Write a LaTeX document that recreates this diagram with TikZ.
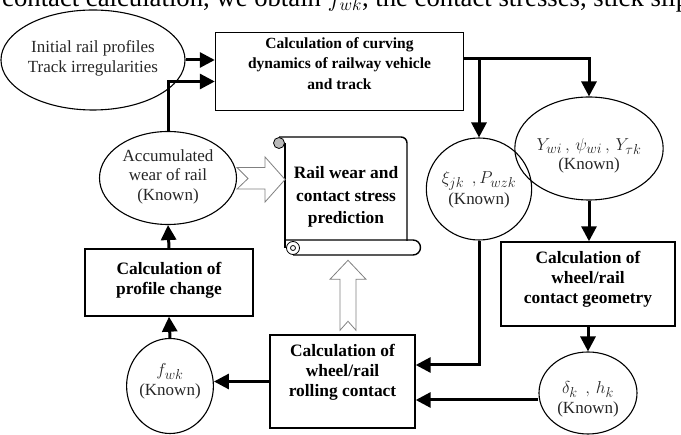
\documentclass[tikz,border=0pt]{standalone}
\usepackage{amsmath}
\usepackage{fontspec}
\setmainfont{Liberation Serif}
\usetikzlibrary{shapes.geometric,arrows.meta}

% lines of a node, lifted by #1, taking no room of their own
\newcommand{\ntext}[2]{\raisebox{#1}[0pt][0pt]{\begin{tabular}{@{}c@{}}#2\end{tabular}}}
\newcommand{\mathline}[1]{\fontsize{19}{20}\selectfont$#1$}

\tikzset{
  box/.style={draw, line width=1.4pt, rectangle, inner sep=0pt,
    font=\fontsize{17.4}{20}\selectfont\bfseries},
  oval/.style={draw, line width=1.1pt, ellipse, inner sep=0pt,
    font=\fontsize{17}{19.5}\selectfont, text=black!85},
  flow/.style={line width=3pt, -{Triangle[length=15pt,width=15pt]}},
  hollow/.style={draw=gray, fill=white, line width=0.8pt, line join=miter}
}

\begin{document}
\begin{tikzpicture}[x=1pt, y=-1pt]
\useasboundingbox (0,0) rectangle (681,435);
% text of the page above the figure
\node[anchor=base west, inner sep=0pt, font=\fontsize{26.7}{28}\selectfont] (caption) at (2,7)
  {contact calculation, we obtain $f_{wk}$, the contact stresses, stick slip};

% nodes
\node[oval, minimum width=153, minimum height=100] (init) at (93,60)
  {\ntext{-3pt}{Initial rail profiles\\Track irregularities}};
\node[box, minimum width=248, minimum height=78, font=\fontsize{15.5}{20.5}\selectfont\bfseries] (curv) at (339.5,71.5)
  {\ntext{3.4pt}{Calculation of curving\\dynamics of railway vehicle\\and track}};
\node[oval, minimum width=137, minimum height=93] (accum) at (168,178)
  {\ntext{-3.3pt}{Accumulated\\wear of rail\\(Known)}};
\node[box, minimum width=168, minimum height=67] (profile) at (169,282.5)
  {\ntext{-2.8pt}{Calculation of\\profile change}};
\node[oval, minimum width=81, minimum height=95] (fwk) at (170,386)
  {\ntext{0pt}{\mathline{f_{wk}}\\(Known)}};
\node[box, minimum width=145, minimum height=93] (roll) at (342.5,381.5)
  {\ntext{5pt}{Calculation of\\wheel/rail\\rolling contact}};
\node[oval, minimum width=98, minimum height=102] (xi) at (479,189)
  {\ntext{-5.3pt}{\mathline{\xi_{jk}\;\,,P_{wzk}}\\(Known)}};
\node[oval, minimum width=122, minimum height=103] (ypsi) at (589,148.5)
  {\ntext{-12pt}{\mathline{Y_{wi}\,,\,\psi_{wi}\,,\,Y_{\tau k}}\\(Known)}};
\node[box, minimum width=174, minimum height=84] (geom) at (588,284)
  {\ntext{0pt}{Calculation of\\wheel/rail\\contact geometry}};
\node[oval, minimum width=98, minimum height=82] (delta) at (588,393)
  {\ntext{-11pt}{\mathline{\delta_k\;\,,\,h_k}\\(Known)}};

% scroll
\draw[line width=1.4pt, rounded corners=6pt] (279,137) -- (407,137) -- (407,241);
\draw[line width=1.4pt] (285,143) -- (285,248);
\draw[line width=1.4pt] (285,240) -- (413,240) arc[start angle=-90, end angle=90, radius=7.5] -- (293,255);
\filldraw[thick, fill=gray!55] (279,143) circle (5.5);
\draw[thick, fill=white] (293,248) circle (6.5);
\draw[thick] (293,248) circle (2.5);
\node[font=\fontsize{17.4}{22.5}\selectfont\bfseries, inner sep=0pt] (pred) at (346,197)
  {\ntext{-4.3pt}{Rail wear and\\contact stress\\prediction}};

% connectors
\draw[flow] (init.east) -- (init.east -| curv.west);
\draw[flow] (accum.north) |- ([yshift=-10pt]curv.west);
\coordinate (tap) at ([yshift=13pt]curv.east);
\draw[flow] (tap) -| (ypsi.north);
\draw[flow] (tap -| xi.north) -- (xi.north);
\draw[flow] (ypsi.south) -- (ypsi.south |- geom.north);
\draw[flow] (geom.south) -- (geom.south |- delta.north);
\draw[flow] (xi.south) |- ([yshift=16.5pt]roll.east);
\draw[flow] ([yshift=-7pt]delta.west) -- ([yshift=-7pt]delta.west -| roll.east);
\draw[flow] (roll.west) -- (roll.west -| fwk.east);
\draw[flow] (fwk.north) -- (profile.south);
\draw[flow] (profile.north) -- (accum.south);

% hollow arrows into the scroll
\draw[hollow, shift={(accum.east)}] (0,-10.5) -- (28,-10.5) -- (28,-21) -- (48,1.5)
  -- (28,24) -- (28,11) -- (0,11) -- (11,0.5) -- cycle;
\draw[hollow, shift={(roll.north)}] (5.5,-74) -- (23.5,-55) -- (13.5,-55) -- (13.5,-4)
  -- (5.5,-13) -- (-2.5,-4) -- (-2.5,-55) -- (-12.5,-55) -- cycle;
\end{tikzpicture}
\end{document}
